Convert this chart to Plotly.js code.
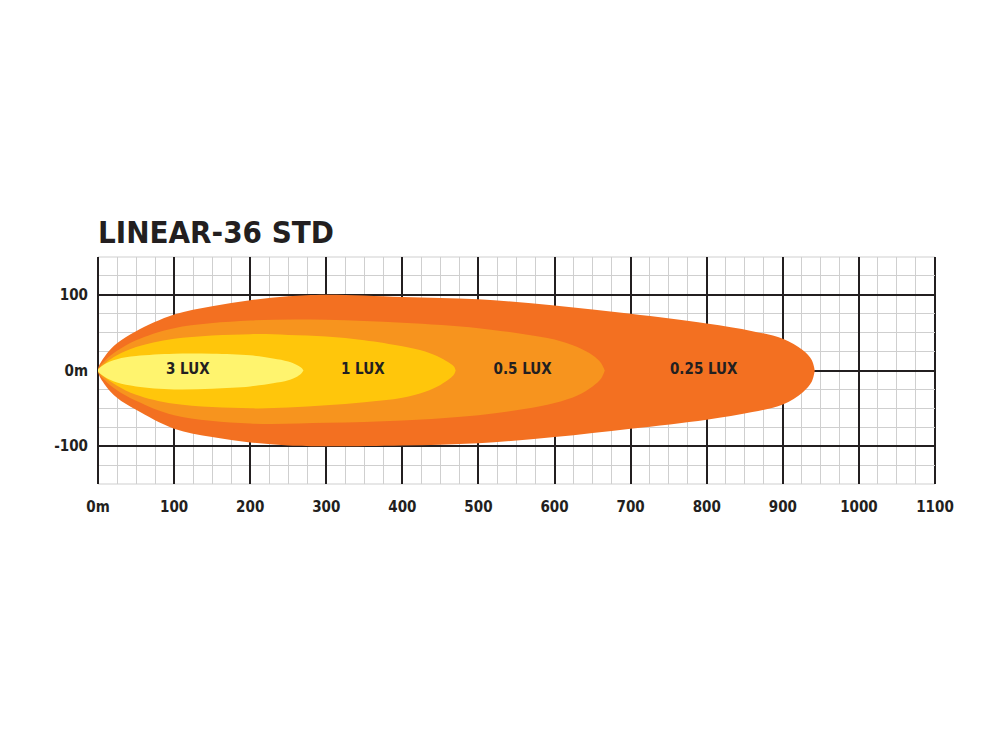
<!DOCTYPE html>
<html>
<head>
<meta charset="utf-8">
<script src="https://cdn.plot.ly/plotly-3.0.1.min.js"></script>
<style>html,body{margin:0;padding:0;background:#fff;}#chart{width:1000px;height:750px;}</style>
</head>
<body>
<div id="chart"></div>
<script>
// ---- data ----
const zoneNames = ["0.25 LUX", "0.5 LUX", "1 LUX", "3 LUX"];

const lux025X      = [0, 10, 25, 50, 100, 150, 200, 250, 300, 400, 500, 600, 700, 800, 860, 900, 926, 938, 942];
const lux025Top    = [0, 20, 36, 52, 74, 85, 93, 98, 100, 97, 94, 86, 75, 62, 52, 42, 27, 14, 0];
const lux025Bottom = [0, -20, -36, -52, -77, -88, -95, -99, -100, -99, -96, -88, -77, -65, -55, -45, -29, -15, 0];

const lux05X      = [0, 10, 25, 50, 100, 200, 300, 400, 500, 560, 600, 630, 650, 661, 666];
const lux05Top    = [0, 14, 26, 40, 56, 66, 67, 63, 56, 48, 41, 31, 20, 10, 0];
const lux05Bottom = [0, -14, -26, -40, -59, -70, -69, -66, -59, -51, -43, -33, -21, -11, 0];

const lux1X      = [0, 10, 25, 50, 100, 200, 250, 300, 350, 400, 430, 450, 462, 468, 470];
const lux1Top    = [0, 10, 20, 31, 42, 48, 47, 45, 40, 32, 25, 17, 10, 5, 0];
const lux1Bottom = [0, -10, -20, -32, -44, -50, -49, -46, -42, -36, -28, -19, -11, -5, 0];

const lux3X      = [0, 8, 25, 50, 100, 150, 200, 230, 250, 262, 268, 270];
const lux3Top    = [0, 8, 15, 19, 22, 22, 20, 16, 12, 7, 3, 0];
const lux3Bottom = [0, -8, -16, -21, -25, -24, -21, -17, -13, -8, -3, 0];

const labelX    = [796, 558, 348, 118];
const labelY    = [0, 0, 0, 0];

const xTickVals = [0, 100, 200, 300, 400, 500, 600, 700, 800, 900, 1000, 1100];
const xTickText = ["0m", "100", "200", "300", "400", "500", "600", "700", "800", "900", "1000", "1100"];
const yTickVals = [100, 0, -100];
const yTickText = ["100", "0m", "-100"];

const chartTitle = "LINEAR-36 STD";

// ---- styles ----
const zoneColors = ["#F37021", "#F7941E", "#FFC60B", "#FFF46E"];
const dark = "#231F20";
const light = "#CFCFCF";
const fontFam = "'Liberation Sans Narrow', 'DejaVu Sans Condensed', 'Roboto', sans-serif";

function outline(xs, top, bottom) {
  const x = xs.slice();
  const y = top.slice();
  for (let i = xs.length - 1; i >= 0; i--) { x.push(xs[i]); y.push(bottom[i]); }
  return {x, y};
}

const zones = [
  outline(lux025X, lux025Top, lux025Bottom),
  outline(lux05X, lux05Top, lux05Bottom),
  outline(lux1X, lux1Top, lux1Bottom),
  outline(lux3X, lux3Top, lux3Bottom)
];

const traces = zones.map((z, i) => ({
  type: "scatter",
  x: z.x, y: z.y,
  mode: "lines",
  fill: "toself",
  fillcolor: zoneColors[i],
  line: {color: zoneColors[i], width: 0, shape: "spline", smoothing: 1},
  name: zoneNames[i],
  hoverinfo: "skip",
  showlegend: false
}));

traces.push({
  type: "scatter",
  x: labelX, y: labelY,
  mode: "text",
  text: zoneNames,
  textposition: "middle center",
  textfont: {family: fontFam, size: 15, color: dark, weight: "bold"},
  hoverinfo: "skip",
  showlegend: false
});

const layout = {
  width: 1000, height: 750,
  margin: {l: 98, r: 65, t: 257, b: 266},
  paper_bgcolor: "#fff",
  plot_bgcolor: "#fff",
  showlegend: false,
  title: {
    text: chartTitle,
    x: 0, xref: "paper", xanchor: "left",
    y: 1 - 232 / 750, yref: "container", yanchor: "middle",
    font: {family: fontFam, size: 31, color: dark, weight: "bold"}
  },
  shapes: [
    {type: "line", xref: "paper", yref: "paper", x0: 0, x1: 1, y0: 1, y1: 1, layer: "below", line: {color: light, width: 1}},
    {type: "line", xref: "paper", yref: "paper", x0: 0, x1: 1, y0: 0, y1: 0, layer: "below", line: {color: light, width: 1}},
    {type: "line", xref: "paper", yref: "paper", x0: 1, x1: 1, y0: 0, y1: 1, layer: "below", line: {color: dark, width: 2}}
  ],
  xaxis: {
    range: [0, 1100],
    tickvals: xTickVals, ticktext: xTickText,
    showgrid: true, gridcolor: dark, gridwidth: 2,
    zeroline: true, zerolinecolor: dark, zerolinewidth: 2,
    showline: false, ticks: "",
    ticklabelstandoff: 12,
    tickfont: {family: fontFam, size: 15, color: dark, weight: "bold"},
    minor: {dtick: 25, tick0: 0, showgrid: true, gridcolor: light, gridwidth: 1, ticks: ""},
    fixedrange: true
  },
  yaxis: {
    range: [-150, 150],
    tickvals: yTickVals, ticktext: yTickText,
    showgrid: true, gridcolor: dark, gridwidth: 2,
    zeroline: true, zerolinecolor: dark, zerolinewidth: 2,
    showline: false, ticks: "",
    ticklabelstandoff: 9,
    tickfont: {family: fontFam, size: 15, color: dark, weight: "bold"},
    minor: {dtick: 25, tick0: 0, showgrid: true, gridcolor: light, gridwidth: 1, ticks: ""},
    fixedrange: true
  }
};

Plotly.newPlot("chart", traces, layout, {displayModeBar: false, staticPlot: true});
</script>
</body>
</html>
